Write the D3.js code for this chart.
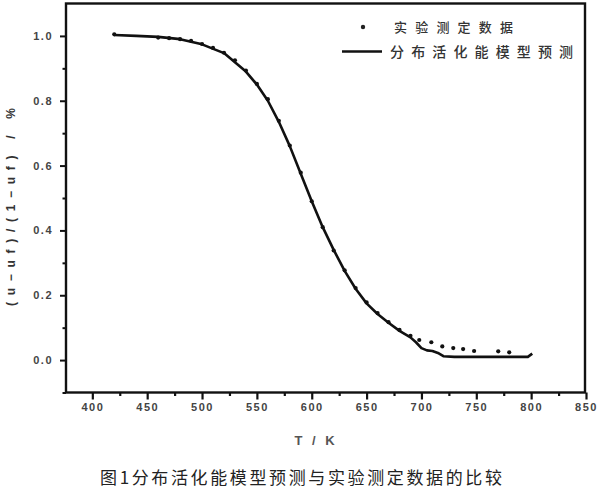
<!DOCTYPE html>
<html><head><meta charset="utf-8">
<script src="https://cdn.jsdelivr.net/npm/d3@7"></script>
<style>body{margin:0;background:#fff}</style>
</head><body>
<svg id="c" width="600" height="489"></svg>
<script>
const modelT = [420,440,460,480,500,520,540,550,560,570,580,590,600,610,620,630,640,650,660,670,680,690,695,700,705,710,715,720,730,760,790,797,801];
const modelV = [1.003,1.0,0.997,0.99,0.974,0.947,0.89,0.85,0.80,0.735,0.66,0.575,0.49,0.41,0.34,0.275,0.22,0.175,0.142,0.115,0.09,0.07,0.055,0.037,0.03,0.028,0.022,0.012,0.01,0.01,0.01,0.01,0.02];
const expT = [420,460,470,480,490,500,510,520,530,540,550,560,570,580,590,600,610,620,630,640,650,660,670,680,690,698,709,719,729,738,748,770,780];
const expV = [1.005,0.995,0.993,0.99,0.985,0.975,0.963,0.948,0.925,0.893,0.852,0.805,0.738,0.662,0.578,0.49,0.41,0.338,0.277,0.222,0.178,0.145,0.117,0.093,0.075,0.062,0.055,0.042,0.037,0.034,0.028,0.027,0.024];
const xTicks = [400,450,500,550,600,650,700,750,800,850];
const yTicks = [0.0,0.2,0.4,0.6,0.8,1.0];
const legendLabels = ["实验测定数据","分布活化能模型预测"];
const xTitle = "T / K";
const yTitle = "(u−uf)/(1−uf) / %";
const caption = "图1分布活化能模型预测与实验测定数据的比较";

const svg = d3.select("#c");
const x = d3.scaleLinear().domain([376,850]).range([66,586]);
const y = d3.scaleLinear().domain([-0.1,1.1]).range([392.5,3.5]);
const tickFont = "Liberation Sans, Arial, sans-serif";

// x axis
const xa = svg.append("g").attr("transform","translate(0,392.5)")
  .call(d3.axisBottom(x).tickValues(xTicks).tickFormat(d3.format("d")).tickSize(7).tickSizeOuter(0));
xa.select(".domain").remove();
xa.selectAll("line").attr("stroke","#111").attr("stroke-width",2.2);
xa.selectAll("text").attr("font-family",tickFont).attr("font-size",11).attr("font-weight","bold")
  .attr("letter-spacing","1.5px").attr("fill","#444").attr("dy","0.9em").attr("y",9);
const xm = svg.append("g").attr("transform","translate(0,392.5)")
  .call(d3.axisBottom(x).tickValues(xTicks.slice(0,-1).map(d=>d+25)).tickFormat("").tickSize(3.5).tickSizeOuter(0));
xm.select(".domain").remove();
xm.selectAll("line").attr("stroke","#111").attr("stroke-width",2.2);

// y axis
const ya = svg.append("g").attr("transform","translate(66,0)")
  .call(d3.axisLeft(y).tickValues(yTicks).tickFormat(d3.format(".1f")).tickSize(6).tickSizeOuter(0));
ya.select(".domain").remove();
ya.selectAll("line").attr("stroke","#111").attr("stroke-width",2);
ya.selectAll("text").attr("font-family",tickFont).attr("font-size",11).attr("font-weight","bold")
  .attr("letter-spacing","1.5px").attr("fill","#444").attr("x",-13);
const ym = svg.append("g").attr("transform","translate(66,0)")
  .call(d3.axisLeft(y).tickValues([-0.1,0.1,0.3,0.5,0.7,0.9]).tickFormat("").tickSize(3.5).tickSizeOuter(0));
ym.select(".domain").remove();
ym.selectAll("line").attr("stroke","#111").attr("stroke-width",2);

// frame
svg.append("rect").attr("x",x.range()[0]).attr("y",y.range()[1])
  .attr("width",x.range()[1]-x.range()[0]-1).attr("height",y.range()[0]-y.range()[1])
  .attr("fill","none").attr("stroke","#111").attr("stroke-width",2.4);

// model line
const line = d3.line().x((d,i)=>x(modelT[i])).y((d,i)=>y(modelV[i]));
svg.append("path").datum(modelV).attr("d",line).attr("fill","none")
  .attr("stroke","#111").attr("stroke-width",2.6).attr("stroke-linejoin","round");

// experimental points
svg.append("g").selectAll("circle").data(expV).join("circle")
  .attr("cx",(d,i)=>x(expT[i])).attr("cy",d=>y(d)).attr("r",2.1).attr("fill","#111");

// legend
const lg = svg.append("g");
lg.append("circle").attr("cx",363).attr("cy",27).attr("r",2.2).attr("fill","#222");
lg.append("text").attr("x",394).attr("y",32).text(legendLabels[0])
  .attr("font-family","Noto Sans CJK SC").attr("font-size",13).attr("font-weight","500").attr("fill","#333")
  .attr("textLength",119).attr("lengthAdjust","spacing");
lg.append("line").attr("x1",342).attr("x2",382).attr("y1",51.5).attr("y2",51.5).attr("stroke","#111").attr("stroke-width",2.6);
lg.append("text").attr("x",390).attr("y",56.5).text(legendLabels[1])
  .attr("font-family","Noto Sans CJK SC").attr("font-size",14).attr("font-weight","500").attr("fill","#333")
  .attr("textLength",183).attr("lengthAdjust","spacing");

// axis titles
svg.append("text").attr("x",316).attr("y",445).attr("text-anchor","middle").text(xTitle)
  .attr("font-family",tickFont).attr("font-size",13).attr("font-weight","bold").attr("fill","#555")
  .attr("letter-spacing","3px");
svg.append("text").attr("transform","translate(15,207) rotate(-90)").attr("text-anchor","middle").text(yTitle)
  .attr("font-family",tickFont).attr("font-size",12).attr("font-weight","bold").attr("fill","#333")
  .attr("textLength",198).attr("lengthAdjust","spacing");

// caption
svg.append("text").attr("x",100).attr("y",484).text(caption)
  .attr("font-family","Noto Sans CJK SC").attr("font-size",17).attr("fill","#222")
  .attr("textLength",402).attr("lengthAdjust","spacing");
</script>
</body></html>
